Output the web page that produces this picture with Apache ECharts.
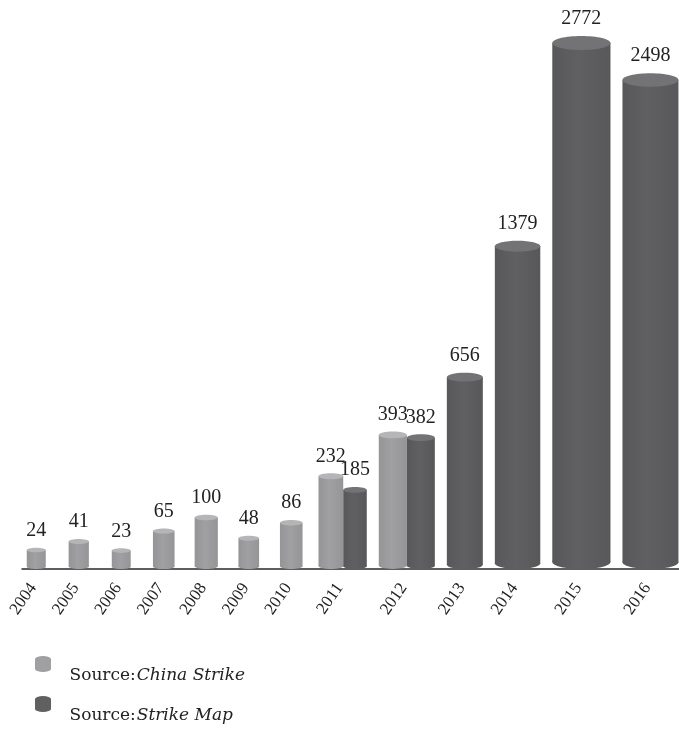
<!DOCTYPE html>
<html>
<head>
<meta charset="utf-8">
<script src="https://cdn.jsdelivr.net/npm/echarts@6/dist/echarts.min.js"></script>
<style>
  html, body { margin: 0; padding: 0; background: #fff; }
  #strike_grp { width: 679px; height: 732px; }
</style>
</head>
<body>
<div id="strike_grp"></div>
<script>
var years = ['2004', '2005', '2006', '2007', '2008', '2009', '2010', '2011', '2012', '2013', '2014', '2015', '2016'];
var chinaStrike = [24, 41, 23, 65, 100, 48, 86, 232, 393, null, null, null, null];
var strikeMap = [null, null, null, null, null, null, null, 185, 382, 656, 1379, 2772, 2498];

var lightBody = '#a0a0a2', lightEdge = '#959597', lightTop = '#b5b5b7';
var darkBody = '#606062', darkEdge = '#58585a', darkTop = '#737375';

// the picture squeezes tall bars: height follows value^0.7
function heightOf(v) { return Math.pow(v, 0.7); }
// bigger counts get fatter cylinders
function widthOf(v) { return 15 + 0.82 * Math.sqrt(v); }

// lay the years out side by side, each slot as wide as its cylinders
var csData = [], smData = [], yearData = [];
var cursor = 15;
years.forEach(function (y, i) {
  var a = chinaStrike[i], b = strikeMap[i];
  var shrink = (a != null && b != null) ? 0.9 : 1;
  var wa = a != null ? widthOf(a) * shrink : 0;
  var wb = b != null ? widthOf(b) * shrink : 0;
  var total = wa + wb;
  var slot = Math.max(42.5, total + 12);
  var center = cursor + slot / 2;
  cursor += slot;
  if (a != null) csData.push([center - total / 2 + wa / 2, heightOf(a), wa, a]);
  if (b != null) smData.push([center + total / 2 - wb / 2, heightOf(b), wb, b]);
  yearData.push([center, 0]);
});

function cylinder(body, edge, top) {
  return function (params, api) {
    var x = api.value(0);
    var p1 = api.coord([x, api.value(1)]);
    var p0 = api.coord([x, 0]);
    var rx = api.size([api.value(2), 0])[0] / 2;
    var ry = rx * 0.24;
    var fill = new echarts.graphic.LinearGradient(0, 0, 1, 0, [
      { offset: 0, color: edge },
      { offset: 0.45, color: body },
      { offset: 1, color: edge }
    ]);
    return {
      type: 'group',
      children: [
        { type: 'ellipse', shape: { cx: p0[0], cy: p0[1] - ry, rx: rx, ry: ry }, style: { fill: fill } },
        { type: 'rect', shape: { x: p0[0] - rx, y: p1[1], width: rx * 2, height: p0[1] - ry - p1[1] }, style: { fill: fill } },
        { type: 'ellipse', shape: { cx: p1[0], cy: p1[1], rx: rx, ry: ry }, style: { fill: top } },
        {
          type: 'text', x: p1[0], y: p1[1] - ry - 7,
          style: {
            text: String(api.value(3)), align: 'center', verticalAlign: 'bottom',
            fontFamily: 'Liberation Serif', fontSize: 20, fill: '#222'
          }
        }
      ]
    };
  };
}

var dom = document.getElementById('strike_grp');
var myChart = echarts.init(dom, null, { renderer: 'canvas' });

var legendIcon = 'path://M0,3A8,3,0,0,1,16,3L16,13A8,3,0,0,1,0,13Z';
var legendText = {
  padding: [24, 0, 0, 13],
  rich: {
    a: { fontFamily: 'DejaVu Serif', fontSize: 17, color: '#222' },
    b: { fontFamily: 'DejaVu Serif', fontSize: 17, fontStyle: 'italic', color: '#222', padding: [0, 0, 0, 1] }
  }
};
function legendLabel(name) { return '{a|Source:}{b|' + name + '}'; }

var option = {
  backgroundColor: '#fff',
  animation: false,
  grid: { left: 22, right: 0, top: 0, bottom: 163 },
  xAxis: {
    type: 'value', min: 22, max: 679,
    axisLine: { show: true, lineStyle: { color: '#2a2a2a', width: 1.5 } },
    axisTick: { show: false },
    axisLabel: { show: false },
    splitLine: { show: false }
  },
  yAxis: { type: 'value', min: 0, max: 278, show: false },
  legend: [
    {
      data: ['China Strike'], left: 30, top: 651, icon: legendIcon,
      itemWidth: 17, itemHeight: 16, formatter: legendLabel, textStyle: legendText
    },
    {
      data: ['Strike Map'], left: 30, top: 691, icon: legendIcon,
      itemWidth: 17, itemHeight: 16, formatter: legendLabel, textStyle: legendText
    }
  ],
  series: [
    {
      name: 'China Strike', type: 'custom', data: csData,
      itemStyle: { color: lightBody },
      renderItem: cylinder(lightBody, lightEdge, lightTop)
    },
    {
      name: 'Strike Map', type: 'custom', data: smData,
      itemStyle: { color: darkBody },
      renderItem: cylinder(darkBody, darkEdge, darkTop)
    },
    {
      name: 'years', type: 'custom', data: yearData,
      renderItem: function (params, api) {
        var p = api.coord([api.value(0), 0]);
        return {
          type: 'text', x: p[0] - 3, y: p[1] + 16, rotation: 55 * Math.PI / 180,
          style: {
            text: years[params.dataIndex], align: 'right', verticalAlign: 'middle',
            fontFamily: 'Liberation Serif', fontSize: 17, fill: '#222'
          }
        };
      }
    }
  ]
};

if (option && typeof option === 'object') {
  myChart.setOption(option);
}

window.addEventListener('resize', myChart.resize);
</script>
</body>
</html>
